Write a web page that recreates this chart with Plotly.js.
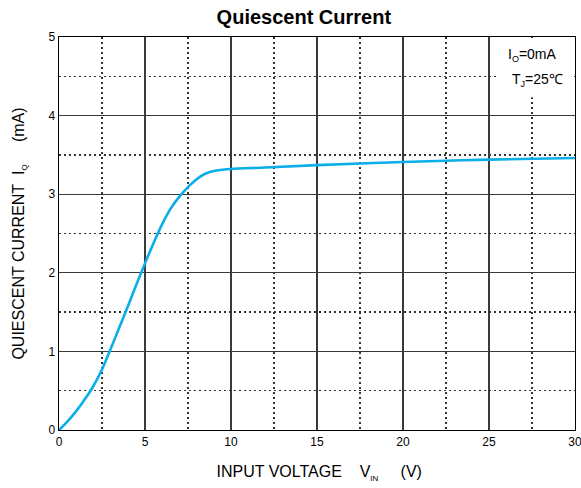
<!DOCTYPE html>
<html>
<head>
<meta charset="utf-8">
<script src="https://cdn.plot.ly/plotly-3.0.1.min.js"></script>
<style>html,body{margin:0;padding:0;background:#fff;}#chart{width:581px;height:488px;}</style>
</head>
<body>
<div id="chart"></div>
<script>
const inputVoltage = [0, 0.5, 1, 1.5, 2, 2.5, 3, 3.5, 4, 4.5, 5, 5.5, 6, 6.5, 7, 7.5, 8, 8.5, 9, 9.5, 10, 12, 15, 20, 25, 30];
const quiescentCurrent = [0, 0.11, 0.24, 0.39, 0.56, 0.77, 1.03, 1.3, 1.57, 1.85, 2.12, 2.38, 2.62, 2.82, 2.97, 3.09, 3.19, 3.26, 3.295, 3.31, 3.32, 3.34, 3.37, 3.41, 3.44, 3.46];
const xTicks = [0, 5, 10, 15, 20, 25, 30];
const yTicks = [0, 1, 2, 3, 4, 5];

const font = "Liberation Sans, Arial, sans-serif";
const trace = {
  x: inputVoltage, y: quiescentCurrent, type: 'scatter', mode: 'lines',
  line: {color: '#0AAEE8', width: 2.6, shape: 'spline', smoothing: 1},
  hoverinfo: 'skip'
};
const dotted = '1.6px,3.4px';
const axisCommon = {
  showline: true, linecolor: '#000', linewidth: 1.3, mirror: true,
  showgrid: true, gridcolor: '#3a3a3a', gridwidth: 1.3,
  zeroline: false, ticks: '', tickfont: {family: font, size: 12, color: '#000'},
  tickmode: 'array', ticklabeloverflow: 'allow'
};
const layout = {
  width: 581, height: 488,
  margin: {l: 59, r: 6, t: 37, b: 58},
  paper_bgcolor: '#fff', plot_bgcolor: '#fff',
  showlegend: false,
  title: {text: '<b>Quiescent Current</b>', font: {family: font, size: 20, color: '#000'}, x: 0.523, xanchor: 'center', y: 0.966, yanchor: 'middle'},
  xaxis: Object.assign({}, axisCommon, {
    range: [0, 30], tickvals: xTicks, ticktext: xTicks.map(String),
    minor: {dtick: 2.5, tick0: 0, showgrid: true, griddash: dotted, gridcolor: '#333', gridwidth: 1.3, ticks: ''},
    title: {text: '&nbsp;INPUT VOLTAGE&nbsp;&nbsp;&nbsp;&nbsp;V<sub><span style="font-size:8px">IN</span></sub>&nbsp;&nbsp;&nbsp;&nbsp;&nbsp;(V)', font: {family: font, size: 16, color: '#000'}, standoff: 18}
  }),
  yaxis: Object.assign({}, axisCommon, {
    range: [0, 5], tickvals: yTicks, ticktext: yTicks.map(String),
    minor: {dtick: 0.5, tick0: 0, showgrid: true, griddash: dotted, gridcolor: '#333', gridwidth: 1.3, ticks: ''},
    title: {text: 'QUIESCENT CURRENT&nbsp;&nbsp;I<sub><span style="font-size:8px">Q</span></sub>&nbsp;&nbsp;&nbsp;&nbsp;&nbsp;(mA)', font: {family: font, size: 16, color: '#000'}, standoff: 20}
  }),
  shapes: [
    {type: 'rect', xref: 'paper', yref: 'paper', x0: 0.85, x1: 0.9975, y0: 0.847, y1: 0.9972,
     fillcolor: '#fff', line: {width: 0}, layer: 'above'}
  ],
  annotations: [
    {xref: 'paper', yref: 'paper', x: 0.918, y: 0.954, xanchor: 'center', yanchor: 'middle', showarrow: false,
     text: 'I<sub><span style="font-size:9px">O</span></sub>=0mA', font: {family: font, size: 14, color: '#000'}},
    {xref: 'paper', yref: 'paper', x: 0.928, y: 0.891, xanchor: 'center', yanchor: 'middle', showarrow: false,
     text: 'T<sub><span style="font-size:9px">J</span></sub>=25℃', font: {family: font, size: 14, color: '#000'}}
  ]
};
Plotly.newPlot('chart', [trace], layout, {displayModeBar: false, staticPlot: true});
</script>
</body>
</html>
